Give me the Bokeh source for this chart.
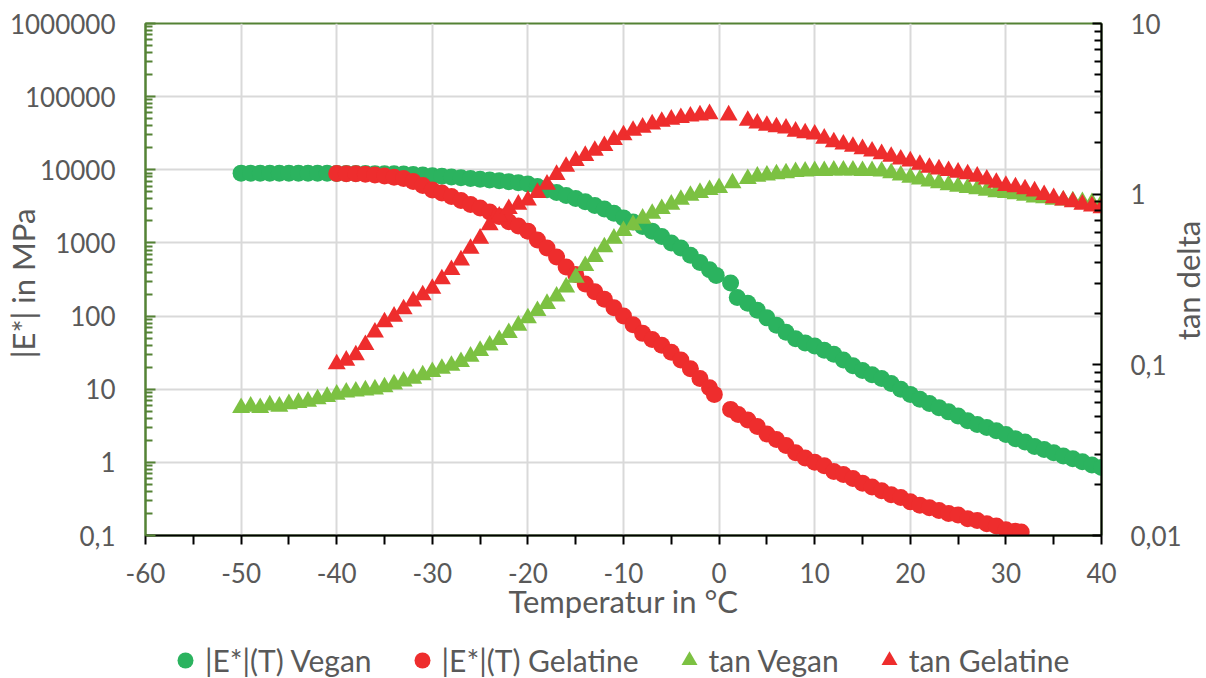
from bokeh.plotting import figure
from bokeh.models import (Range1d, LogScale, LogAxis, FixedTicker, GridBox, Label,
                          CustomJSTickFormatter, Legend, LegendItem)
from bokeh.embed import file_html
from bokeh.resources import INLINE

# ---------------- data ----------------
t_e_vegan = [-50, -49, -48, -47, -46, -45, -44, -43, -42, -41,
             -40, -39, -38, -37, -36, -35, -34, -33, -32, -31,
             -30, -29, -28, -27, -26, -25, -24, -23, -22, -21,
             -20, -19, -18, -17, -16, -15, -14, -13, -12, -11,
             -10, -9, -8, -7, -6, -5, -4, -3, -2, -1,
             -0.3, 1.2, 1.9,
             3, 4, 5, 6, 7, 8, 9, 10, 11, 12, 13, 14, 15, 16, 17, 18, 19, 20,
             21, 22, 23, 24, 25, 26, 27, 28, 29, 30, 31, 32, 33, 34, 35, 36,
             37, 38, 39, 40]
e_vegan = [9000, 9000, 8990, 8990, 8980, 8970, 8960, 8950, 8950, 8940,
           8930, 8920, 8900, 8880, 8860, 8840, 8800, 8760, 8650, 8500,
           8300, 8150, 7950, 7780, 7600, 7400, 7230, 7060, 6850, 6650,
           6400, 5900, 5350, 4900, 4450, 4050, 3650, 3250, 2900, 2550,
           2200, 1930, 1680, 1450, 1220, 1000, 850, 680, 540, 430,
           360, 283, 180,
           150, 120, 95, 75, 60, 49, 43, 39, 34, 30, 25, 21, 18, 15.8, 14, 12,
           10, 8.5, 7.3, 6.4, 5.6, 4.9, 4.3, 3.7, 3.3, 3.0, 2.7, 2.4, 2.1,
           1.9, 1.65, 1.5, 1.35, 1.22, 1.12, 1.02, 0.92, 0.85]

t_e_gel = [-40, -39, -38, -37, -36, -35, -34, -33, -32, -31,
           -30, -29, -28, -27, -26, -25, -24, -23, -22, -21,
           -20, -19, -18, -17, -16, -15, -14, -13, -12, -11,
           -10, -9, -8, -7, -6, -5, -4, -3, -2, -1,
           -0.5, 1.2, 2,
           3, 4, 5, 6, 7, 8, 9, 10, 11, 12, 13, 14, 15, 16, 17, 18, 19, 20,
           21, 22, 23, 24, 25, 26, 27, 28, 29, 30, 31, 31.6]
e_gel = [8900, 8850, 8800, 8700, 8500, 8200, 7900, 7600, 6900, 6100,
         5300, 4800, 4300, 3800, 3350, 3000, 2650, 2300, 1950, 1700,
         1450, 1100, 850, 640, 470, 370, 275, 215, 170, 130,
         100, 76, 58, 48, 40, 32, 25, 19, 14, 10.5,
         8.5, 5.3, 4.5,
         3.8, 3.1, 2.45, 2.05, 1.7, 1.35, 1.15, 1.0, 0.9, 0.75, 0.68, 0.6,
         0.52, 0.46, 0.41, 0.36, 0.33, 0.29, 0.26, 0.24, 0.22, 0.2, 0.19,
         0.17, 0.16, 0.145, 0.135, 0.12, 0.114, 0.112]

t_tan_vegan = [-50, -49, -48, -47, -46, -45, -44, -43, -42, -41,
               -40, -39, -38, -37, -36, -35, -34, -33, -32, -31,
               -30, -29, -28, -27, -26, -25, -24, -23, -22, -21,
               -20, -19, -18, -17, -16, -15, -14, -13, -12, -11,
               -10, -9, -8, -7, -6, -5, -4, -3, -2, -1,
               0, 1.4,
               3, 4, 5, 6, 7, 8, 9, 10, 11, 12, 13, 14, 15, 16, 17, 18, 19, 20,
               21, 22, 23, 24, 25, 26, 27, 28, 29, 30, 31, 32, 33, 34, 35, 36,
               37, 38, 39, 40]
tan_vegan = [0.056, 0.057, 0.056, 0.058, 0.057, 0.059, 0.060, 0.061, 0.063, 0.065,
             0.067, 0.069, 0.070, 0.071, 0.072, 0.074, 0.077, 0.080, 0.083, 0.087,
             0.091, 0.095, 0.099, 0.104, 0.112, 0.121, 0.130, 0.140, 0.154, 0.170,
             0.188, 0.207, 0.228, 0.252, 0.285, 0.325, 0.38, 0.43, 0.49, 0.55,
             0.61, 0.66, 0.72, 0.77, 0.82, 0.87, 0.93, 0.98, 1.02, 1.06,
             1.09, 1.16,
             1.23, 1.27, 1.29, 1.31, 1.33, 1.35, 1.36, 1.37, 1.37, 1.38, 1.38,
             1.38, 1.37, 1.37, 1.36, 1.33, 1.29, 1.25, 1.22, 1.19, 1.16, 1.13,
             1.11, 1.09, 1.07, 1.05, 1.03, 1.02, 1.0, 0.98, 0.96, 0.95, 0.93,
             0.92, 0.91, 0.90, 0.89, 0.88]

t_tan_gel = [-40, -39, -38, -37, -36, -35, -34, -33, -32, -31,
             -30, -29, -28, -27, -26, -25, -24, -23, -22, -21,
             -20, -19, -18, -17, -16, -15, -14, -13, -12, -11,
             -10, -9, -8, -7, -6, -5, -4, -3, -2, -1,
             1,
             3, 4, 5, 6, 7, 8, 9, 10, 11, 12, 13, 14, 15, 16, 17, 18, 19, 20,
             21, 22, 23, 24, 25, 26, 27, 28, 29, 30, 31, 32, 33, 34, 35, 36,
             37, 38, 39, 40]
tan_gel = [0.101, 0.106, 0.114, 0.131, 0.155, 0.178, 0.192, 0.212, 0.236, 0.256,
           0.280, 0.318, 0.36, 0.41, 0.48, 0.55, 0.66, 0.74, 0.82, 0.87,
           0.92, 1.02, 1.14, 1.30, 1.45, 1.57, 1.68, 1.80, 1.92, 2.08,
           2.22, 2.36, 2.46, 2.57, 2.66, 2.74, 2.80, 2.86, 2.90, 2.95,
           2.90,
           2.70, 2.60, 2.52, 2.47, 2.43, 2.33, 2.28, 2.24, 2.12, 2.02, 1.96,
           1.90, 1.84, 1.78, 1.72, 1.66, 1.60, 1.56, 1.49, 1.43, 1.40, 1.37,
           1.34, 1.31, 1.27, 1.22, 1.17, 1.12, 1.10, 1.07, 1.04, 0.99, 0.95,
           0.92, 0.90, 0.87, 0.85, 0.83]

series_labels = ["|E*|(T) Vegan", "|E*|(T) Gelatine", "tan Vegan", "tan Gelatine"]

x_ticks = [-60, -50, -40, -30, -20, -10, 0, 10, 20, 30, 40]
x_minor = [-55, -45, -35, -25, -15, -5, 5, 15, 25, 35]
e_ticks = [0.1, 1, 10, 100, 1000, 10000, 100000, 1000000]
tan_ticks = [0.01, 0.1, 1, 10]

# ---------------- styling ----------------
FONT = "Lato"
TXT = "#595959"
GREEN_AX = "#548235"
C_VEGAN = "#2bb35f"
C_GEL = "#ee2d2d"
C_TVEGAN = "#7cc142"
MARKERS = [("circle", C_VEGAN, 17), ("circle", C_GEL, 17),
           ("triangle", C_TVEGAN, 18), ("triangle", C_GEL, 18)]
SERIES = [(t_e_vegan, e_vegan, "default"), (t_e_gel, e_gel, "default"),
          (t_tan_vegan, tan_vegan, "tan"), (t_tan_gel, tan_gel, "tan")]
W, H = 1206, 678


def log_minors(majors):
    out = []
    for m in majors[:-1]:
        for k in range(2, 10):
            out.append(m * k)
    return out


p = figure(width=W, height=H, output_backend="svg", toolbar_location=None,
           x_range=Range1d(-60, 40), y_range=Range1d(0.1, 1e6),
           y_axis_type="log",
           min_border_left=145, min_border_right=105,
           min_border_top=23, min_border_bottom=143)
p.frame_align = False
p.extra_y_ranges = {"tan": Range1d(0.01, 10)}
p.extra_y_scales = {"tan": LogScale()}

p.background_fill_color = "white"
p.border_fill_color = "white"
p.outline_line_color = GREEN_AX
p.outline_line_width = 2

fmt = CustomJSTickFormatter(code="""
const e = Math.round(Math.log10(tick));
if (e >= 0) { return "1" + "0".repeat(e); }
return "0," + "0".repeat(-e - 1) + "1";
""")
xfmt = CustomJSTickFormatter(code="return String(Math.round(tick));")

# left axis
ya = p.yaxis[0]
ya.ticker = FixedTicker(ticks=e_ticks, minor_ticks=log_minors(e_ticks))
ya.formatter = fmt
ya.axis_line_color = GREEN_AX
ya.axis_line_width = 2
ya.major_tick_line_color = GREEN_AX
ya.minor_tick_line_color = GREEN_AX
ya.major_tick_line_width = 2
ya.minor_tick_line_width = 2
ya.major_tick_in = 10
ya.major_tick_out = 0
ya.minor_tick_in = 7
ya.minor_tick_out = 0
ya.major_label_standoff = 30
ya.major_label_text_font = FONT
ya.major_label_text_font_size = "26px"
ya.major_label_text_color = TXT
ya.axis_label = "|E*|  in MPa"
ya.axis_label_text_font = FONT
ya.axis_label_text_font_size = "31px"
ya.axis_label_text_font_style = "normal"
ya.axis_label_text_color = TXT
ya.axis_label_standoff = -35

# bottom axis
xa = p.xaxis[0]
xa.ticker = FixedTicker(ticks=x_ticks, minor_ticks=x_minor)
xa.formatter = xfmt
xa.axis_line_color = "black"
xa.axis_line_width = 2
xa.major_tick_line_color = "black"
xa.minor_tick_line_color = "black"
xa.major_tick_line_width = 2
xa.minor_tick_line_width = 2
xa.major_tick_in = 0
xa.major_tick_out = 9
xa.minor_tick_in = 0
xa.minor_tick_out = 9
xa.major_label_standoff = 18
xa.major_label_text_font = FONT
xa.major_label_text_font_size = "26px"
xa.major_label_text_color = TXT
xa.axis_label = "Temperatur in °C"
xa.axis_label_text_font = FONT
xa.axis_label_text_font_size = "31px"
xa.axis_label_text_font_style = "normal"
xa.axis_label_text_color = TXT
xa.axis_label_standoff = -4

# right axis (ticks + tick labels; its title is drawn by the overlay)
ra = LogAxis(y_range_name="tan",
             ticker=FixedTicker(ticks=tan_ticks, minor_ticks=log_minors(tan_ticks)),
             formatter=fmt)
ra.axis_line_color = "black"
ra.axis_line_width = 2
ra.major_tick_line_color = "black"
ra.minor_tick_line_color = "black"
ra.major_tick_line_width = 2
ra.minor_tick_line_width = 2
ra.major_tick_in = 9
ra.major_tick_out = 0
ra.minor_tick_in = 7
ra.minor_tick_out = 0
ra.major_label_standoff = 29
ra.major_label_text_font = FONT
ra.major_label_text_font_size = "26px"
ra.major_label_text_color = TXT
p.add_layout(ra, "right")

# grids
p.xgrid.ticker = FixedTicker(ticks=x_ticks)
p.xgrid.grid_line_color = "#d9d9d9"
p.xgrid.grid_line_width = 2
p.ygrid.grid_line_color = "#d9d9d9"
p.ygrid.grid_line_width = 2
p.ygrid.minor_grid_line_color = None

# series
for (xs, ys, rng), (mk, col, sz) in zip(SERIES, MARKERS):
    p.scatter(xs, ys, marker=mk, size=sz, fill_color=col, line_color=None,
              y_range_name=rng)

# ---------------- transparent overlay: right-axis title + legend ----------------
ov = figure(width=W, height=H, output_backend="svg", toolbar_location=None,
            x_range=Range1d(0, 1), y_range=Range1d(0, 1),
            x_axis_location=None, y_axis_location=None,
            min_border_left=0, min_border_right=0,
            min_border_top=0, min_border_bottom=0)
ov.frame_align = False
ov.outline_line_color = None
ov.grid.visible = False
ov.background_fill_color = None
ov.border_fill_color = None

ov.add_layout(Label(x=1187, y=H - 280, x_units="screen", y_units="screen",
                    text="tan delta", angle=90, angle_units="deg",
                    text_align="center", text_baseline="middle",
                    text_font=FONT, text_font_size="31px", text_color=TXT))

items = []
for (xs, ys, rng), (mk, col, sz), lab in zip(SERIES, MARKERS, series_labels):
    r = ov.scatter(xs, ys, marker=mk, size=sz, fill_color=col, line_color=None,
                   visible=False)
    items.append(LegendItem(label=lab, renderers=[r]))

legend = Legend(items=items, orientation="horizontal", location=(165, -2),
                glyph_width=40, glyph_height=40, label_standoff=0,
                spacing=30, padding=0, margin=0,
                border_line_color=None, background_fill_alpha=0,
                inactive_fill_alpha=0,
                label_text_font=FONT, label_text_font_size="30px",
                label_text_color=TXT, label_height=40)
ov.add_layout(legend)

layout = GridBox(children=[(p, 0, 0), (ov, 0, 0)])
open("out.html", "w").write(file_html(layout, INLINE))
